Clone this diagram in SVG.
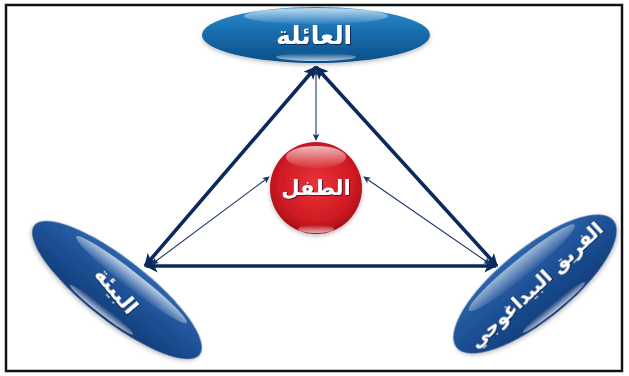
<svg xmlns="http://www.w3.org/2000/svg" width="629" height="376" viewBox="0 0 629 376">
<defs>
<style>
.lbl{font-family:"DejaVu Sans",sans-serif;font-weight:bold;fill:#fff;text-anchor:middle;direction:rtl}
.thick{stroke:#0b2a5c;stroke-width:3.6;fill:none}
.thin{stroke:#1b3566;stroke-width:1.1;fill:none}
</style>
<linearGradient id="gTop" x1="0" y1="0" x2="0" y2="1">
<stop offset="0" stop-color="#2d8acb"/><stop offset="0.55" stop-color="#1467a7"/><stop offset="1" stop-color="#0d4f88"/>
</linearGradient>
<linearGradient id="gSide" x1="0" y1="0" x2="0" y2="1">
<stop offset="0" stop-color="#2d64ab"/><stop offset="0.5" stop-color="#1d4f94"/><stop offset="1" stop-color="#123d7a"/>
</linearGradient>
<radialGradient id="gRed" cx="0.5" cy="0.45" r="0.55">
<stop offset="0" stop-color="#e8343a"/><stop offset="0.75" stop-color="#cf1a22"/><stop offset="1" stop-color="#a80e16"/>
</radialGradient>
<linearGradient id="gHi" x1="0" y1="0" x2="0" y2="1">
<stop offset="0" stop-color="#fff" stop-opacity="0.7"/><stop offset="1" stop-color="#fff" stop-opacity="0.05"/>
</linearGradient>
<linearGradient id="gLo" x1="0" y1="1" x2="0" y2="0">
<stop offset="0" stop-color="#fff" stop-opacity="0.7"/><stop offset="1" stop-color="#fff" stop-opacity="0"/>
</linearGradient>
<filter id="ts" x="-20%" y="-20%" width="140%" height="140%">
<feDropShadow dx="1" dy="1" stdDeviation="0.6" flood-color="#0a1a3a" flood-opacity="0.8"/>
</filter>
<filter id="sh" x="-20%" y="-20%" width="140%" height="150%">
<feDropShadow dx="0" dy="2" stdDeviation="2" flood-color="#000" flood-opacity="0.25"/>
</filter>
<marker id="ah" viewBox="0 0 10 10" refX="9" refY="5" markerWidth="15" markerHeight="13" markerUnits="userSpaceOnUse" orient="auto-start-reverse">
<path d="M0,0 L10,5 L0,10 L2.5,5 Z" fill="#0b2a5c"/>
</marker>
<marker id="ahs" viewBox="0 0 10 10" refX="9" refY="5" markerWidth="8" markerHeight="7" markerUnits="userSpaceOnUse" orient="auto-start-reverse">
<path d="M0,0 L10,5 L0,10 L2.5,5 Z" fill="#1b3566"/>
</marker>
</defs>
<rect width="629" height="376" fill="#fff"/>
<rect x="6" y="5" width="616" height="366" fill="none" stroke="#111" stroke-width="2.5"/>

<g id="connectors">
<line class="thick" x1="316" y1="67" x2="145" y2="266" marker-start="url(#ah)" marker-end="url(#ah)"/>
<line class="thick" x1="316" y1="67" x2="497" y2="266" marker-start="url(#ah)" marker-end="url(#ah)"/>
<line class="thick" x1="146" y1="266" x2="496" y2="266" marker-start="url(#ah)" marker-end="url(#ah)"/>
<line class="thin" x1="316" y1="70" x2="316" y2="140" marker-start="url(#ahs)" marker-end="url(#ahs)"/>
<line class="thin" x1="152" y1="264" x2="269" y2="177" marker-start="url(#ahs)" marker-end="url(#ahs)"/>
<line class="thin" x1="490" y1="264" x2="364" y2="177" marker-start="url(#ahs)" marker-end="url(#ahs)"/>
</g>

<g id="family">
<ellipse cx="316" cy="35" rx="114" ry="28" fill="url(#gTop)" filter="url(#sh)"/>
<ellipse cx="316" cy="16" rx="72" ry="8" fill="url(#gHi)"/>
<ellipse cx="316" cy="57" rx="40" ry="4" fill="url(#gLo)"/>
<text class="lbl" x="314" y="44" font-size="25" filter="url(#ts)">العائلة</text>
</g>

<g id="child">
<circle cx="316" cy="188" r="46" fill="url(#gRed)" filter="url(#sh)"/>
<ellipse cx="316" cy="157" rx="30" ry="11" fill="url(#gHi)"/>
<ellipse cx="316" cy="229" rx="18" ry="4" fill="url(#gLo)"/>
<text class="lbl" x="316" y="195" font-size="21" filter="url(#ts)">الطفل</text>
</g>

<g id="environment" transform="translate(117,290) rotate(38)">
<ellipse cx="0" cy="0" rx="105" ry="31" fill="url(#gSide)" filter="url(#sh)"/>
<ellipse cx="5" cy="-17" rx="70" ry="8" fill="url(#gHi)"/>
<ellipse cx="0" cy="25" rx="40" ry="4" fill="url(#gLo)"/>
<text class="lbl" x="0" y="8" font-size="21" filter="url(#ts)" transform="rotate(12)">البيئة</text>
</g>

<g id="team" transform="translate(535,284) rotate(-39)">
<ellipse cx="0" cy="0" rx="101" ry="36" fill="url(#gSide)" filter="url(#sh)"/>
<ellipse cx="0" cy="-21" rx="68" ry="9" fill="url(#gHi)" opacity="0.8"/>
<ellipse cx="0" cy="30" rx="40" ry="4" fill="url(#gLo)"/>
<text class="lbl" x="0" y="8" font-size="19" filter="url(#ts)" transform="rotate(-4)">الفريق البيداغوجي</text>
</g>
</svg>
